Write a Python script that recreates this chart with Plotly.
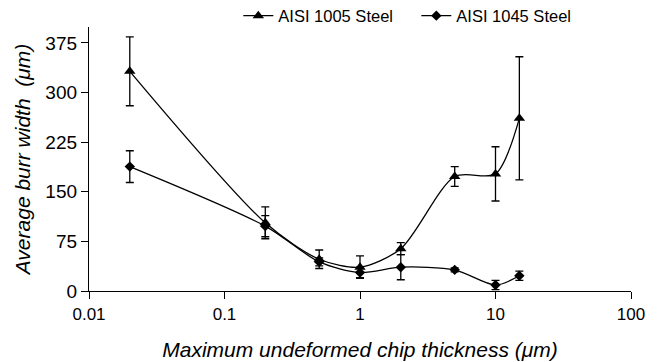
import plotly.graph_objects as go

x_vals = [0.02, 0.2, 0.5, 1, 2, 5, 10, 15]
y_1005 = [332, 103, 48, 36, 64, 173, 177, 261]
e_1005 = [52, 24, 14, 17, 9, 15, 41, 93]
y_1045 = [188, 98, 44, 28, 36, 32, 9, 23]
e_1045 = [24, 16, 6, 8, 19, 3, 7, 7]
y_ticks = [0, 75, 150, 225, 300, 375]
x_ticks = [0.01, 0.1, 1, 10, 100]
x_tick_labels = ["0.01", "0.1", "1", "10", "100"]

FONT = "Liberation Sans, Arial, sans-serif"

fig = go.Figure()
for name, y, e, sym, size in [
    ("AISI 1005 Steel", y_1005, e_1005, "triangle-up", 10),
    ("AISI 1045 Steel", y_1045, e_1045, "diamond", 8),
]:
    fig.add_trace(go.Scatter(
        x=x_vals, y=y, name=name, mode="lines+markers",
        line=dict(color="black", width=1.3, shape="spline", smoothing=0.8),
        marker=dict(symbol=sym, size=size, color="black"),
        error_y=dict(type="data", array=e, visible=True, color="black",
                     thickness=1.3, width=4),
    ))

fig.update_layout(
    width=661, height=362,
    margin=dict(l=89, r=30, t=27, b=71, autoexpand=False),
    paper_bgcolor="white", plot_bgcolor="white",
    font=dict(family=FONT, color="black", size=17),
    showlegend=True,
    legend=dict(orientation="h", x=0.2755, y=1.042, xanchor="left", yanchor="middle",
                font=dict(size=16.5, family=FONT), bgcolor="rgba(0,0,0,0)",
                entrywidth=133, entrywidthmode="pixels", itemwidth=30),
    xaxis=dict(
        type="log", range=[-2, 2], tickvals=x_ticks, ticktext=x_tick_labels,
        showgrid=False, zeroline=False, showline=True, linecolor="black", linewidth=1.3,
        ticks="outside", ticklen=7, tickcolor="black", tickwidth=1.3,
        tickfont=dict(size=17),
        title=dict(text="<i>Maximum undeformed chip thickness (μm)</i>", font=dict(size=21), standoff=19),
    ),
    yaxis=dict(
        range=[0, 399], tickvals=y_ticks,
        showgrid=False, zeroline=False, showline=True, linecolor="black", linewidth=1.3,
        ticks="outside", ticklen=7, tickcolor="black", tickwidth=1.3,
        tickfont=dict(size=19),
        title=dict(text="<i>Average burr width  (μm)</i>", font=dict(size=21), standoff=8),
    ),
)

fig.write_html("out.html")
